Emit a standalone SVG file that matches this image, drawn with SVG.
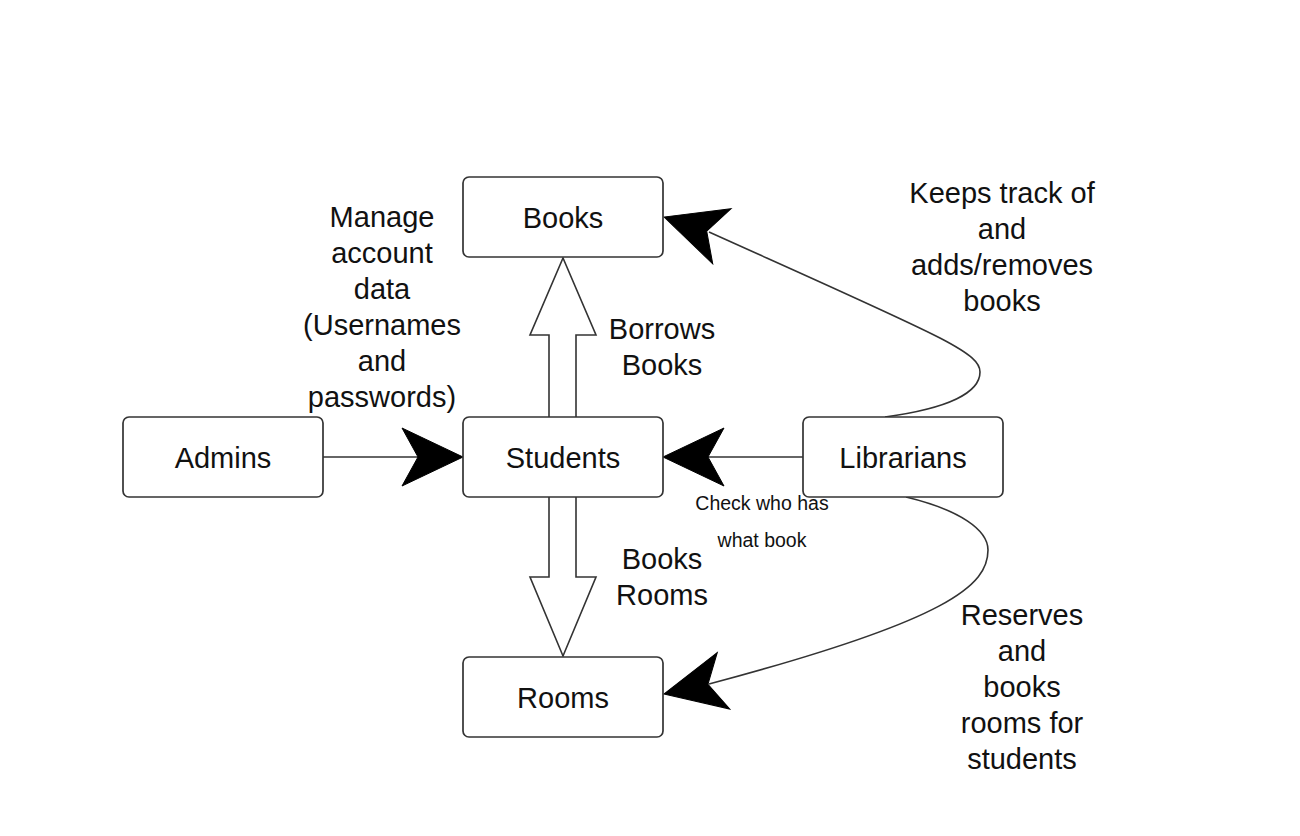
<svg xmlns="http://www.w3.org/2000/svg" xmlns:xlink="http://www.w3.org/1999/xlink" width="1300" height="836" viewBox="0 0 1300 836">
<style>
.box{fill:#ffffff;stroke:#333333;stroke-width:1.7}
.lbl{font-family:"Liberation Sans",Arial,sans-serif;font-size:29px;fill:#111111;text-anchor:middle}
.small{font-family:"Liberation Sans",Arial,sans-serif;font-size:19.5px;fill:#111111;text-anchor:middle}
.edge{fill:none;stroke:#333333;stroke-width:1.6}
.block{fill:#ffffff;stroke:#333333;stroke-width:1.6;stroke-linejoin:miter}
.head{fill:#000000;stroke:#000000;stroke-width:1}
</style>
<defs>
<path id="ah" d="M0,0 L-61,-29 L-45,0 L-61,29 Z"/>
</defs>
<rect width="1300" height="836" fill="#ffffff"/>
<g id="connectors">
<path class="edge" d="M323,457 L420,457"/>
<use href="#ah" class="head" transform="translate(463,457)"/>
<path class="edge" d="M803,457 L708,457"/>
<use href="#ah" class="head" transform="translate(663,457) rotate(180)"/>
<path class="edge" d="M885,417 C950,408 980,392 980,372 C980,352 940,336 709,232"/>
<use href="#ah" class="head" transform="translate(664,217) rotate(198.4)"/>
<path class="edge" d="M906,497 C960,510 988,530 988,550 C988,585 950,620 709,684"/>
<use href="#ah" class="head" transform="translate(664,694) rotate(167.5)"/>
<path class="block" d="M549,417 L549,335 L530,335 L563,258 L596,335 L576,335 L576,417"/>
<path class="block" d="M549,497 L549,577 L530,577 L563,656 L596,577 L576,577 L576,497"/>
</g>
<g id="node-books"><rect class="box" x="463" y="177" width="200" height="80" rx="6"/><text class="lbl" x="563" y="227.5">Books</text></g>
<g id="node-students"><rect class="box" x="463" y="417" width="200" height="80" rx="6"/><text class="lbl" x="563" y="467.5">Students</text></g>
<g id="node-rooms"><rect class="box" x="463" y="657" width="200" height="80" rx="6"/><text class="lbl" x="563" y="707.5">Rooms</text></g>
<g id="node-admins"><rect class="box" x="123" y="417" width="200" height="80" rx="6"/><text class="lbl" x="223" y="467.5">Admins</text></g>
<g id="node-librarians"><rect class="box" x="803" y="417" width="200" height="80" rx="6"/><text class="lbl" x="903" y="467.5">Librarians</text></g>
<g id="labels">
<text class="lbl" x="382" y="227">Manage</text>
<text class="lbl" x="382" y="263">account</text>
<text class="lbl" x="382" y="299">data</text>
<text class="lbl" x="382" y="335">(Usernames</text>
<text class="lbl" x="382" y="371">and</text>
<text class="lbl" x="382" y="407">passwords)</text>
<text class="lbl" x="662" y="339">Borrows</text>
<text class="lbl" x="662" y="375">Books</text>
<text class="lbl" x="662" y="569">Books</text>
<text class="lbl" x="662" y="605">Rooms</text>
<text class="lbl" x="1002" y="203">Keeps track of</text>
<text class="lbl" x="1002" y="239">and</text>
<text class="lbl" x="1002" y="275">adds/removes</text>
<text class="lbl" x="1002" y="311">books</text>
<text class="lbl" x="1022" y="625">Reserves</text>
<text class="lbl" x="1022" y="661">and</text>
<text class="lbl" x="1022" y="697">books</text>
<text class="lbl" x="1022" y="733">rooms for</text>
<text class="lbl" x="1022" y="769">students</text>
<text class="small" x="762" y="510">Check who has</text>
<text class="small" x="762" y="547">what book</text>
</g>
</svg>
